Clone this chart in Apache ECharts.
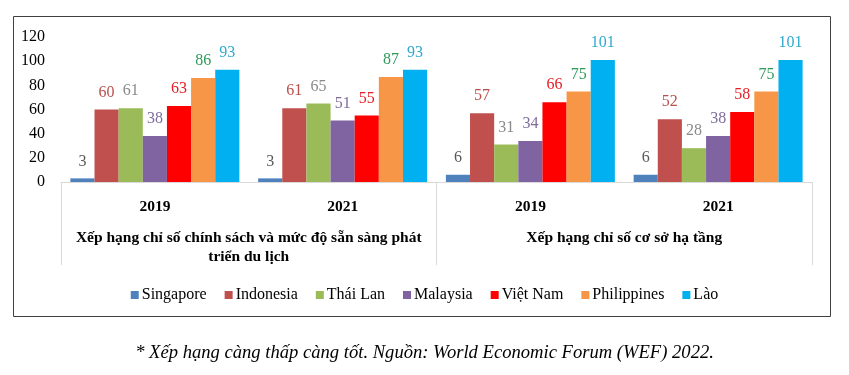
<!DOCTYPE html>
<html lang="vi">
<head>
    <meta charset="UTF-8">
    <script src="https://cdn.jsdelivr.net/npm/echarts@6/dist/echarts.min.js"></script>
    <title>Xếp hạng</title>
    <style>
        body { margin: 0; background: #fff; }
    </style>
</head>
<body>
<div id="main" style="width: 849px;height:375px;"></div>

<script type="text/javascript">
    // nhóm năm và nhóm chỉ số
    var years = ['2019', '2021', '2019', '2021'];
    var groups = ['Xếp hạng chỉ số chính sách và mức độ sẵn sàng phát\ntriển du lịch', 'Xếp hạng chỉ số cơ sở hạ tầng'];
    var countries = ['Singapore', 'Indonesia', 'Thái Lan', 'Malaysia', 'Việt Nam', 'Philippines', 'Lào'];

    var singapore = [3, 3, 6, 6];
    var indonesia = [60, 61, 57, 52];
    var thaiLan = [61, 65, 31, 28];
    var malaysia = [38, 51, 34, 38];
    var vietNam = [63, 55, 66, 58];
    var philippines = [86, 87, 75, 75];
    var lao = [93, 93, 101, 101];

    var yTicks = [0, 20, 40, 60, 80, 100, 120];

    var values = [singapore, indonesia, thaiLan, malaysia, vietNam, philippines, lao];
    var barColors = ['#4f81bd', '#c0504d', '#9bbb59', '#8064a2', '#ff0000', '#f79646', '#00b0f0'];
    var labelColors = ['#595959', '#b9504d', '#8a8a8a', '#7f6c9c', '#e31e24', '#2f9a5b', '#2fa9cb'];

    var font = 'Liberation Serif';
    var myChart = echarts.init(document.getElementById('main'));

    var series = [];
    for (var i = 0; i < countries.length; i++) {
        series.push({
            name: countries[i],
            type: 'bar',
            xAxisIndex: 0,
            barGap: '0%',
            barCategoryGap: '10%',
            itemStyle: { color: barColors[i] },
            label: {
                show: true,
                position: 'top',
                distance: 9,
                color: labelColors[i],
                fontFamily: font,
                fontSize: 16
            },
            data: values[i]
        });
    }

    var option = {
        animation: false,
        title: {
            text: '* Xếp hạng càng thấp càng tốt. Nguồn: World Economic Forum (WEF) 2022.',
            left: 'center',
            top: 339,
            textStyle: {
                fontFamily: font,
                fontStyle: 'italic',
                fontWeight: 'normal',
                fontSize: 18.6,
                color: '#000'
            }
        },
        legend: {
            data: countries,
            top: 282,
            left: 'center',
            itemWidth: 8,
            itemHeight: 8,
            itemGap: 18,
            icon: 'rect',
            textStyle: { fontFamily: font, fontSize: 16, color: '#000', padding: [0, 0, 0, -2] }
        },
        grid: {
            left: 61,
            right: 37,
            top: 37,
            bottom: 193
        },
        xAxis: [{
            type: 'category',
            data: years,
            axisLine: { lineStyle: { color: '#d9d9d9' } },
            axisTick: { show: false },
            axisLabel: {
                margin: 17,
                interval: 0,
                fontFamily: font,
                fontSize: 15.5,
                fontWeight: 'bold',
                color: '#000'
            }
        }, {
            type: 'category',
            data: groups,
            position: 'bottom',
            axisLine: { show: false },
            axisTick: { show: true, length: 83, lineStyle: { color: '#d9d9d9' } },
            axisLabel: {
                margin: 46,
                interval: 0,
                fontFamily: font,
                fontSize: 15.5,
                fontWeight: 'bold',
                lineHeight: 19,
                color: '#000'
            }
        }],
        yAxis: {
            type: 'value',
            min: yTicks[0],
            max: yTicks[yTicks.length - 1],
            interval: 20,
            axisLine: { show: false },
            axisTick: { show: false },
            splitLine: { show: false },
            axisLabel: {
                margin: 16,
                fontFamily: font,
                fontSize: 16,
                color: '#000'
            }
        },
        graphic: [{
            type: 'rect',
            shape: { x: 13.5, y: 16.5, width: 817, height: 300 },
            style: { fill: 'none', stroke: '#404040', lineWidth: 1 },
            silent: true
        }],
        series: series
    };
    myChart.setOption(option);
</script>
</body>
</html>
